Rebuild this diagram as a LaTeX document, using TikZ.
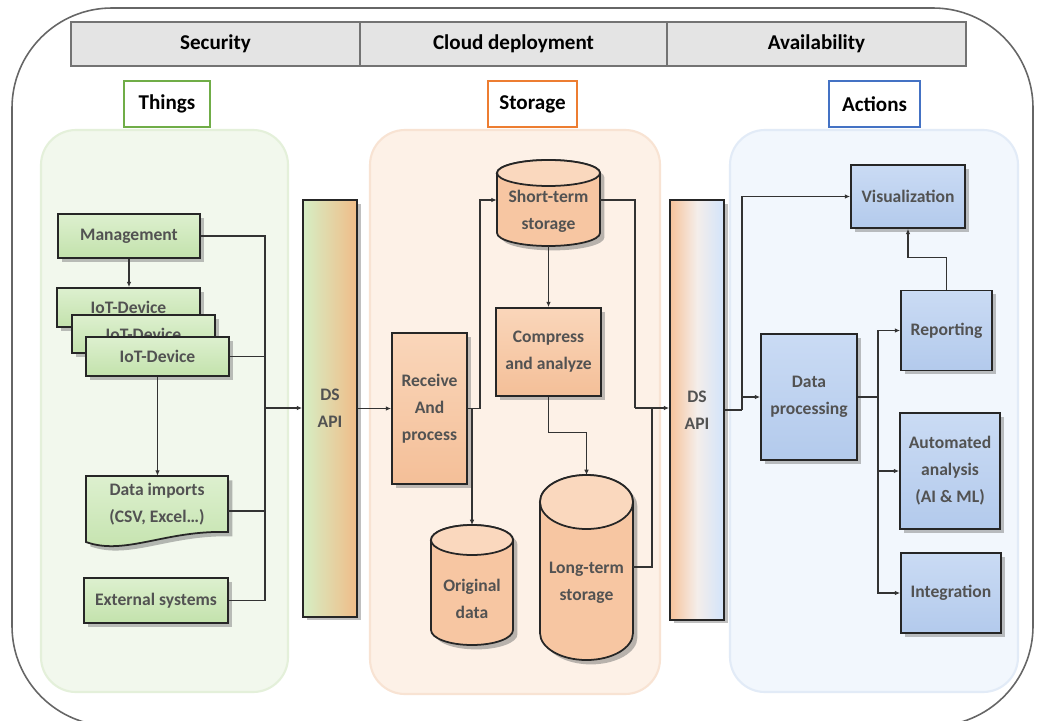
\documentclass[tikz,border=0pt]{standalone}
\usepackage{fontspec}
\setmainfont{Carlito}
\usetikzlibrary{shadows,arrows.meta,calc}
\definecolor{gtop}{HTML}{DDF0CF}
\definecolor{gbot}{HTML}{C3E2AC}
\definecolor{otop}{HTML}{FAD6BA}
\definecolor{obot}{HTML}{F4BF98}
\definecolor{btop}{HTML}{CADBF4}
\definecolor{bbot}{HTML}{B3CAEC}
\definecolor{panelG}{HTML}{F2F8ED}
\definecolor{panelO}{HTML}{FDF1E7}
\definecolor{panelB}{HTML}{F2F7FD}
\definecolor{edgeG}{HTML}{E4F0DA}
\definecolor{edgeO}{HTML}{F8E3D3}
\definecolor{edgeB}{HTML}{E2EBF7}
\definecolor{hdrfill}{HTML}{E4E4E4}
\definecolor{apiG}{HTML}{D6EEC4}
\definecolor{apiO}{HTML}{F0BC88}
\definecolor{apiO2}{HTML}{F6C39B}
\definecolor{apiB}{HTML}{D2E4FB}
\definecolor{cylbody}{HTML}{F7C6A2}
\definecolor{cyltop}{HTML}{FAD8BE}
\definecolor{frameG}{HTML}{70AD47}
\definecolor{frameO}{HTML}{ED7D31}
\definecolor{frameB}{HTML}{4472C4}
\newcommand\drawcyl[5]{%
 \pgfmathsetmacro\cylrx{(#2-#1)/2*0.02}%
 \pgfmathsetmacro\cylry{#5*0.02}%
 \pgfmathsetmacro\cylyt{#3+#5}%
 \pgfmathsetmacro\cylyb{#4-#5}%
 \pgfmathsetmacro\cylcx{(#1+#2)/2}%
 \fill[black!60,opacity=.45,xshift=2.5pt,yshift=-2.5pt] (#1,\cylyt) -- (#1,\cylyb) arc[start angle=180,end angle=360,x radius=\cylrx cm,y radius=\cylry cm] -- (#2,\cylyt) arc[start angle=0,end angle=180,x radius=\cylrx cm,y radius=\cylry cm] -- cycle;
 \filldraw[fill=cylbody,draw=black!85,line width=1pt] (#1,\cylyt) -- (#1,\cylyb) arc[start angle=180,end angle=360,x radius=\cylrx cm,y radius=\cylry cm] -- (#2,\cylyt) arc[start angle=0,end angle=180,x radius=\cylrx cm,y radius=\cylry cm] -- cycle;
 \filldraw[fill=cyltop,draw=black!85,line width=1pt] (\cylcx,\cylyt) ellipse[x radius=\cylrx cm,y radius=\cylry cm];
}
\begin{document}
\begin{tikzpicture}[x=0.02cm,y=-0.02cm,
  conn/.style={draw=black!80,line width=0.7pt},
  connA/.style={conn,-{Latex[length=3pt,width=2.6pt]}},
  boxfont/.style={font=\fontsize{10}{15.3}\selectfont\bfseries},
  box/.style={draw=black!85,line width=1pt,text=black!68,align=center,inner sep=1pt,boxfont,
    drop shadow={shadow xshift=2pt,shadow yshift=-2pt,opacity=.5}},
  gbox/.style={box,top color=gtop,bottom color=gbot},
  obox/.style={box,top color=otop,bottom color=obot},
  bbox/.style={box,top color=btop,bottom color=bbot},
  cyltext/.style={text=black!68,align=center,inner sep=0pt,boxfont},
  hdr/.style={draw=black!55,fill=hdrfill,line width=0.8pt,minimum height=0.88cm,inner sep=0pt,
    font=\fontsize{12}{14}\selectfont\bfseries},
  lbl/.style={fill=white,line width=0.8pt,minimum height=0.92cm,inner sep=0pt,
    font=\fontsize{12}{14}\selectfont\bfseries},
  panel/.style={rounded corners=0.7cm,line width=1.2pt}
]
\useasboundingbox (0,0) rectangle (1037,720);
\fill[white] (0,0) rectangle (1037,720);
% outer frame
\draw[black!60,line width=0.9pt,rounded corners=2cm] (12,8) rectangle (1033,726);
% header
\node[hdr,minimum width=5.78cm] (sec) at (215.5,44) {Security};
\node[hdr,minimum width=6.14cm] (cloud) at (513.5,44) {Cloud deployment};
\node[hdr,minimum width=5.98cm] (avail) at (816.5,44) {Availability};
% panels
\filldraw[fill=panelG,draw=edgeG,panel] (41,130) rectangle (288,692);
\filldraw[fill=panelO,draw=edgeO,panel] (370,130) rectangle (660,694);
\filldraw[fill=panelB,draw=edgeB,panel] (730,130) rectangle (1018,692);
% labels
\node[lbl,draw=frameG,minimum width=1.72cm] (things) at (167,104) {Things};
\node[lbl,draw=frameO,minimum width=1.78cm] (storage) at (532.5,104) {Storage};
\node[lbl,draw=frameB,minimum width=1.82cm] (actions) at (874.5,104) {Actions};
% ---- Things
\node[gbox,minimum width=2.84cm,minimum height=0.88cm] (mgmt) at (129,236) {Management};
\node[gbox,minimum width=2.86cm,minimum height=0.78cm] (iot1) at (128.5,307.5) {IoT-Device};
\node[gbox,minimum width=2.86cm,minimum height=0.76cm] (iot2) at (143.5,334) {IoT-Device};
\node[gbox,minimum width=2.86cm,minimum height=0.78cm] (iot3) at (157.5,356.5) {IoT-Device};
\fill[black!60,opacity=.45,xshift=2.5pt,yshift=-2.5pt] (86,476) -- (228,476) -- (228,532) .. controls (165,530) and (125,556) .. (86,542) -- cycle;
\filldraw[top color=gtop,bottom color=gbot,draw=black!85,line width=1pt] (86,476) -- (228,476) -- (228,532) .. controls (165,530) and (125,556) .. (86,542) -- cycle;
\node[cyltext,minimum width=2.84cm,minimum height=1.12cm] (imp) at (157,504) {Data imports\\(CSV, Excel…)};
\node[gbox,minimum width=2.88cm,minimum height=0.9cm] (ext) at (156,600.5) {External systems};
% DS API left
\node[box,left color=apiG,right color=apiO,minimum width=1.08cm,minimum height=8.34cm] (dsl) at (330,408.5) {DS\\API};
% ---- Storage
\node[obox,minimum width=1.5cm,minimum height=3.02cm] (rcv) at (429.5,408.5) {Receive\\And\\process};
\drawcyl{497}{600}{160}{246}{13}
\node[cyltext,minimum width=2.06cm] (st) at (548.5,211) {Short-term\\storage};
\node[obox,minimum width=2.1cm,minimum height=1.76cm] (cmp) at (548.5,352) {Compress\\and analyze};
\drawcyl{431}{513}{525}{645}{15}
\node[cyltext,minimum width=1.64cm] (od) at (472,599) {Original\\data};
\drawcyl{540}{633}{475}{660}{27}
\node[cyltext,minimum width=1.86cm] (lt) at (586.5,583) {Long-term\\storage};
% DS API right
\node[box,left color=apiO2,right color=apiB,middle color=apiB!50!apiO2!40!white,minimum width=1.08cm,minimum height=8.4cm] (dsr) at (697,410) {DS\\API};
% ---- Actions
\node[bbox,minimum width=2.28cm,minimum height=1.26cm] (vis) at (908,196.5) {Visualization};
\node[bbox,minimum width=1.92cm,minimum height=2.52cm] (dp) at (809,397) {Data\\processing};
\node[bbox,minimum width=1.82cm,minimum height=1.6cm] (rep) at (946.5,330.5) {Reporting};
\node[bbox,minimum width=2.0cm,minimum height=2.32cm] (auto) at (950,471) {Automated\\analysis\\(AI \& ML)};
\node[bbox,minimum width=2.0cm,minimum height=1.6cm] (int) at (951,593) {Integration};
% ---- connectors left
\coordinate (busL) at (265,408);
\draw[connA] (mgmt.south) -- (mgmt.south |- iot1.north);
\draw[connA] (iot3.south) -- (iot3.south |- imp.north);
\draw[conn] (mgmt.east) -| (busL);
\draw[conn] (iot3.east) -| (busL);
\draw[conn] ([yshift=-0.14cm]imp.east) -| (busL);
\draw[conn] (ext.east) -| (busL);
\draw[connA,line width=1.3pt] (busL) -- (busL -| dsl.west);
% ---- connectors storage
\coordinate (rj) at (480,408.5);
\coordinate (odt) at (472,525);
\coordinate (stb) at (548.5,246);
\coordinate (ltt) at (586.5,475);
\coordinate (jR1) at (635,408);
\coordinate (jR2) at (652,408);
\draw[connA] (dsl.east |- rcv.west) -- (rcv.west);
\draw[connA] (rcv.east) -| (odt);
\draw[connA] (rcv.east) -- (rj) |- ([yshift=0.22cm]st.west);
\draw[connA] (stb) -- (stb |- cmp.north);
\draw[connA] (cmp.south) -- ++(0,36) -| (ltt);
\draw[conn] ([yshift=0.22cm]st.east) -| (jR1);
\draw[conn] ([yshift=0.32cm]lt.east) -| (jR2);
\draw[connA,line width=1.3pt] (jR1) -- (jR1 -| dsr.west);
% ---- connectors actions
\coordinate (rb) at (742,410);
\coordinate (rb2) at (878,397);
\draw[conn,line width=1.3pt] (dsr.east) -- (rb);
\draw[connA] (rb) |- (vis.west);
\draw[connA] (rb |- dp.west) -- (dp.west);
\draw[connA] (rep.north) -- ++(0,-32) -| (vis.south);
\draw[conn,line width=1.3pt] (dp.east) -- (rb2);
\draw[connA] (rb2) |- (rep.west);
\draw[connA] (rb2) |- (auto.west);
\draw[connA] (rb2) |- (int.west);
\end{tikzpicture}
\end{document}
